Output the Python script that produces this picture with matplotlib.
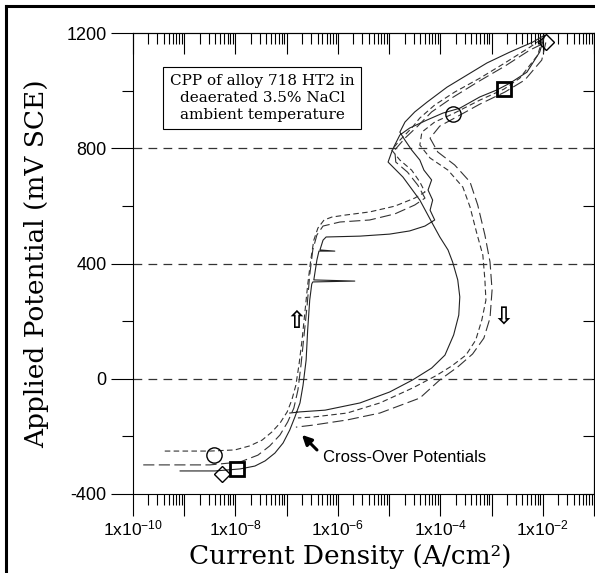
import numpy as np
import matplotlib
matplotlib.use('Agg')
from matplotlib import pyplot as plt
from matplotlib.lines import Line2D
from matplotlib.ticker import FixedLocator, NullFormatter

# ---- data (log10 of current density, potential in mV SCE) ----
solid_logi = [-9.08, -8.40, -7.91, -7.62, -7.42, -7.23, -7.07, -6.94, -6.84, -6.74, -6.68, -6.62,
              -6.59, -6.55, -6.51, -6.49, -5.67, -6.47, -6.41, -6.37, -6.06, -6.35, -6.29, -6.23,
              -5.57, -4.99, -4.60, -4.30, -4.11, -4.20, -4.15, -4.24, -4.17, -4.32, -4.40, -4.56,
              -4.69, -4.79, -4.69, -4.50, -4.26, -3.87, -3.48, -3.09, -2.64, -2.20, -1.96,
              -2.06, -2.31, -2.64, -2.90, -3.23, -3.62, -3.95, -4.26, -4.60, -4.79, -4.89, -4.95,
              -5.02, -4.73, -4.40, -4.17, -4.01, -3.85, -3.76, -3.66, -3.62, -3.64, -3.74, -3.91,
              -4.17, -4.54, -4.99, -5.57, -6.25, -6.74, -6.94]
solid_E = [-320, -320, -313, -303, -285, -258, -223, -178, -133, -84, -22, 65,
           169, 273, 329, 336, 339, 343, 412, 443, 443, 447, 481, 492,
           495, 502, 513, 530, 551, 585, 620, 655, 690, 724, 759, 794,
           828, 856, 891, 926, 960, 1012, 1054, 1096, 1134, 1168, 1193,
           1134, 1064, 1026, 1002, 978, 939, 922, 898, 870, 846, 811, 787,
           752, 700, 620, 544, 492, 447, 405, 343, 284, 221, 152, 82,
           37, -4, -46, -84, -109, -115, -119]

short_logi = [-9.38, -8.50, -8.01, -7.72, -7.48, -7.29, -7.13, -6.99, -6.90, -6.82, -6.76, -6.70,
              -6.64, -6.59, -6.53, -6.47, -6.39, -6.27, -6.12, -5.86, -5.38, -4.89, -4.50, -4.30,
              -4.40, -4.56, -4.79, -4.95, -4.79, -4.56, -4.40, -4.11, -3.72, -3.23, -2.74, -2.25,
              -2.00, -2.10, -2.45, -2.76, -3.23, -3.76, -4.11, -4.36, -4.40, -4.20, -3.85, -3.56,
              -3.42, -3.29, -3.17, -3.13, -3.11, -3.19, -3.31, -3.50, -3.78, -4.09, -4.54, -5.18,
              -5.82, -6.49, -6.78]
short_E = [-251, -251, -247, -233, -213, -185, -154, -115, -74, -22, 48, 134,
           238, 325, 412, 481, 523, 551, 561, 568, 579, 599, 627, 648,
           683, 724, 759, 794, 828, 870, 905, 950, 995, 1043, 1096, 1151,
           1182, 1123, 1043, 1005, 967, 919, 891, 856, 811, 766, 724, 665,
           596, 506, 429, 343, 273, 204, 134, 82, 44, 10, -32, -84,
           -119, -133, -136]

long_logi = [-9.80, -8.50, -7.91, -7.56, -7.33, -7.13, -6.98, -6.86, -6.78, -6.72, -6.66, -6.60,
             -6.55, -6.49, -6.41, -6.29, -5.96, -5.38, -4.89, -4.50, -4.30, -4.44, -4.64, -4.87,
             -4.89, -4.69, -4.44, -4.17, -3.78, -3.27, -2.74, -2.25, -1.94, -2.02, -2.35, -2.74,
             -3.23, -3.72, -4.01, -4.20, -4.05, -3.72, -3.42, -3.27, -3.13, -3.03, -2.99, -3.03,
             -3.15, -3.37, -3.66, -4.01, -4.40, -5.18, -5.82, -6.49, -6.82]
long_E = [-299, -299, -289, -265, -233, -195, -150, -102, -39, 48, 152, 256,
          360, 447, 499, 530, 544, 551, 572, 603, 627, 672, 717, 752,
          794, 835, 877, 926, 974, 1030, 1085, 1141, 1168, 1106, 1037, 995,
          953, 905, 877, 835, 787, 742, 683, 603, 499, 405, 308, 211,
          141, 86, 41, -4, -67, -119, -143, -161, -168]

circle_logi = [-8.42, -3.76]
circle_E = [-265, 919]
square_logi = [-7.97, -2.76]
square_E = [-313, 1005]
diamond_logi = [-8.26, -1.94]
diamond_E = [-331, 1168]

xtick_exp = [-10, -9, -8, -7, -6, -5, -4, -3, -2, -1]
xtick_labels = ['1x10$^{-10}$', '', '1x10$^{-8}$', '', '1x10$^{-6}$', '',
                '1x10$^{-4}$', '', '1x10$^{-2}$', '']
ymajor = [-400, 0, 400, 800, 1200]
yminor = [-200, 200, 600, 1000]
grid_E = [0, 400, 800]

note = 'CPP of alloy 718 HT2 in\ndeaerated 3.5% NaCl\nambient temperature'

plt.rcParams['font.family'] = ['Liberation Sans', 'DejaVu Sans']
plt.rcParams['mathtext.fontset'] = 'custom'
plt.rcParams['mathtext.rm'] = 'Liberation Sans'
plt.rcParams['mathtext.it'] = 'Liberation Sans'
plt.rcParams['axes.unicode_minus'] = False

fig = plt.figure(figsize=(5.95, 5.73), dpi=100)
ax = fig.add_axes([133/595, 79/573, 461/595, 461/573])

for yv in grid_E:
    ax.axhline(yv, color='#333333', lw=0.9, linestyle=(0, (7, 5)), zorder=1)

ax.plot(10**np.array(solid_logi), solid_E, color='#222222', lw=0.8)
ax.plot(10**np.array(short_logi), short_E, color='#333333', lw=0.8, linestyle=(0, (5, 3)))
ax.plot(10**np.array(long_logi), long_E, color='#333333', lw=0.8, linestyle=(0, (10, 4)))

ax.plot(10**np.array(circle_logi), circle_E, 'o', ms=11, mfc='none', mec='black', mew=1.0)
ax.plot(10**np.array(square_logi), square_E, 's', ms=10, mfc='none', mec='black', mew=2.0)
ax.plot(10**np.array(diamond_logi), diamond_E, 'D', ms=8, mfc='none', mec='black', mew=1.0)

ax.set_xscale('log')
ax.set_xlim(1e-10, 1e-1)
ax.set_ylim(-400, 1200)

ax.xaxis.set_major_locator(FixedLocator([10.0**e for e in xtick_exp]))
ax.set_xticklabels(xtick_labels)
ax.xaxis.set_minor_locator(FixedLocator([m * 10.0**e for e in xtick_exp[:-1] for m in range(2, 10)]))
ax.xaxis.set_minor_formatter(NullFormatter())
ax.set_yticks(ymajor)
ax.set_yticks(yminor, minor=True)
ax.tick_params(axis='x', which='major', direction='out', length=16, width=0.8,
               labelsize=12.5, pad=2)
ax.tick_params(axis='y', which='major', direction='out', length=16, width=0.8,
               labelsize=13, pad=3)
ax.tick_params(axis='both', which='minor', direction='out', length=8, width=0.8)

# top and right ticks point inward
top = ax.secondary_xaxis('top')
top.xaxis.set_major_locator(FixedLocator([10.0**e for e in xtick_exp]))
top.xaxis.set_minor_locator(FixedLocator([m * 10.0**e for e in xtick_exp[:-1] for m in range(2, 10)]))
top.tick_params(which='major', direction='in', length=15, width=0.8, labeltop=False)
top.tick_params(which='minor', direction='in', length=8, width=0.8)
top.xaxis.set_major_formatter(NullFormatter())
top.xaxis.set_minor_formatter(NullFormatter())
right = ax.secondary_yaxis('right')
right.set_yticks(ymajor)
right.set_yticks(yminor, minor=True)
right.tick_params(which='both', direction='in', length=8, width=0.8, labelright=False)

for sp in ax.spines.values():
    sp.set_linewidth(0.8)

ax.set_xlabel('Current Density (A/cm²)', family='DejaVu Serif', fontsize=19, labelpad=0)
ax.xaxis.set_label_coords(0.472, -0.108)
ax.set_ylabel('Applied Potential (mV SCE)', family='DejaVu Serif', fontsize=19)
ax.yaxis.set_label_coords(-0.182, 0.5)

ax.text(0.28, 0.859, note, transform=ax.transAxes, ha='center', va='center',
        family='DejaVu Serif', fontsize=11, linespacing=1.3,
        bbox=dict(boxstyle='square,pad=0.45', fc='white', ec='black', lw=0.8))

ax.text(10**-6.82, 200, '⇧', family='DejaVu Sans', fontweight='bold', fontsize=17,
        ha='center', va='center')
ax.text(10**-2.78, 214, '⇩', family='DejaVu Sans', fontweight='bold', fontsize=17,
        ha='center', va='center')

ax.annotate('', xy=(10**-6.74, -188), xytext=(10**-6.37, -254),
            arrowprops=dict(arrowstyle='-|>', lw=2.2, color='black', mutation_scale=14))
ax.text(10**-6.29, -275, 'Cross-Over Potentials', fontsize=12, ha='left', va='center')

# frame around the picture
fig.add_artist(Line2D([6/595, 6/595], [0, 1 - 6/573], transform=fig.transFigure, color='black', lw=2.2))
fig.add_artist(Line2D([6/595, 1], [1 - 6/573, 1 - 6/573], transform=fig.transFigure, color='black', lw=2.2))

plt.savefig('out.png', dpi=100)
